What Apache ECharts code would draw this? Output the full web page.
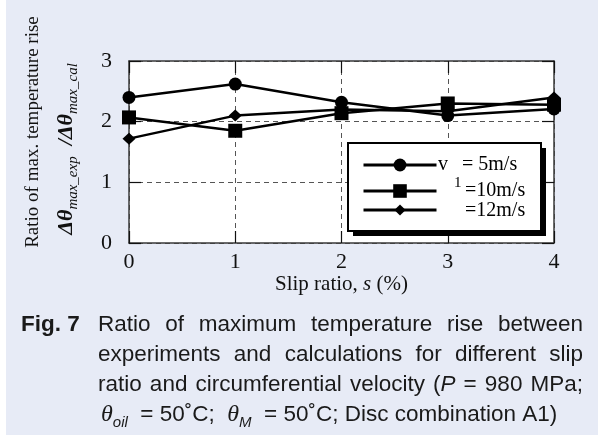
<!DOCTYPE html>
<html>
<head>
<meta charset="utf-8">
<script src="https://cdn.jsdelivr.net/npm/echarts@6/dist/echarts.min.js"></script>
<style>
  html, body { margin: 0; padding: 0; background: #fff; }
  #chart { width: 598px; height: 441px; }
</style>
</head>
<body>
<div id="chart"></div>
<script>
// slip ratio s (%) on x, ratio of max temperature rise on y
const slipRatio = [0, 1, 2, 3, 4];
const v5 = [2.40, 2.62, 2.32, 2.10, 2.21];   // v1 = 5m/s
const v10 = [2.07, 1.85, 2.14, 2.30, 2.28];  // v1 = 10m/s
const v12 = [1.72, 2.10, 2.20, 2.17, 2.40];  // v1 = 12m/s
const xTicks = [0, 1, 2, 3, 4];
const yTicks = [0, 1, 2, 3];

const SERIF = 'Liberation Serif';
const SANS = 'Liberation Sans';
const CAP = 22.5;

const pairs = (ys) => slipRatio.map((x, i) => [x, ys[i]]);

// measure words so the caption can be justified like the printed one
const ctx = document.createElement('canvas').getContext('2d');
function fontOf(kind) {
  const style = kind === 'i' ? 'italic' : 'normal';
  const weight = kind === 'b' ? 'bold' : 'normal';
  return { style, weight, str: style + ' ' + weight + ' ' + CAP + 'px ' + SANS };
}
function measure(text, kind) {
  ctx.font = fontOf(kind).str;
  return ctx.measureText(text).width;
}
function captionLine(words, x0, x1, y) {
  const els = [];
  const widths = words.map(w => w.reduce((s, p) => s + measure(p[0], p[1]), 0));
  const total = widths.reduce((a, b) => a + b, 0);
  const gap = (x1 - x0 - total) / (words.length - 1);
  let x = x0;
  words.forEach((w, i) => {
    let px = x;
    w.forEach(p => {
      const f = fontOf(p[1]);
      els.push({
        type: 'text', x: px, y: y, z: 10,
        style: {
          text: p[0], fontSize: CAP, fontFamily: SANS, fontStyle: f.style,
          fontWeight: f.weight, fill: '#1a1a1a', verticalAlign: 'middle'
        }
      });
      px += measure(p[0], p[1]);
    });
    x += widths[i] + gap;
  });
  return els;
}
const w = (s) => [[s, 'n']];
const line1 = 'Ratio of maximum temperature rise between'.split(' ').map(w);
const line2 = 'experiments and calculations for different slip'.split(' ').map(w);
const line3 = ['ratio', 'and', 'circumferential', 'velocity'].map(w)
  .concat([[['(', 'n'], ['P', 'i']], w('='), w('980'), w('MPa;')]);

const chart = echarts.init(document.getElementById('chart'), null, { renderer: 'canvas' });

const axisLine = () => ({ show: true, onZero: false, lineStyle: { color: '#3a3a3a', width: 1.5 } });
const ticks = () => ({ show: true, inside: true, length: 12, lineStyle: { color: '#111', width: 1.2 } });
const splits = () => ({ show: true, lineStyle: { color: '#555', width: 1, type: [5, 4] } });

function legendAt(name, cy, h) {
  return {
    data: [name], left: 362, top: cy - h / 2, padding: 0,
    itemWidth: 73, itemHeight: h, selectedMode: false, z: 8,
    formatter: () => '', textStyle: { fontSize: 1 },
    lineStyle: { width: 3, color: '#000' }
  };
}

chart.setOption({
  backgroundColor: '#e7ebf6',
  animation: false,
  grid: {
    left: 129, top: 61, right: 44, bottom: 198,
    show: true, backgroundColor: '#fff', borderWidth: 0
  },
  xAxis: [{
    type: 'value', min: xTicks[0], max: xTicks[xTicks.length - 1], interval: xTicks[1] - xTicks[0],
    axisLine: axisLine(), axisTick: ticks(), splitLine: splits(),
    axisLabel: { fontFamily: SERIF, fontSize: 22, color: '#111', margin: 8 },
    name: '{n|Slip ratio, }{i|s}{n| (%)}', nameLocation: 'middle', nameGap: 30,
    nameTextStyle: {
      rich: {
        n: { fontFamily: SERIF, fontSize: 21, color: '#111' },
        i: { fontFamily: SERIF, fontSize: 21, fontStyle: 'italic', color: '#111' }
      }
    }
  }, {
    type: 'value', position: 'top', min: xTicks[0], max: xTicks[xTicks.length - 1],
    interval: xTicks[1] - xTicks[0],
    axisLine: axisLine(), axisTick: ticks(),
    axisLabel: { show: false }, splitLine: { show: false }
  }],
  yAxis: [{
    type: 'value', min: yTicks[0], max: yTicks[yTicks.length - 1], interval: yTicks[1] - yTicks[0],
    axisLine: axisLine(), axisTick: ticks(), splitLine: splits(),
    axisLabel: { fontFamily: SERIF, fontSize: 22, color: '#111', margin: 17 }
  }, {
    type: 'value', position: 'right', min: yTicks[0], max: yTicks[yTicks.length - 1],
    interval: yTicks[1] - yTicks[0],
    axisLine: axisLine(), axisTick: ticks(),
    axisLabel: { show: false }, splitLine: { show: false }
  }],
  legend: [
    legendAt('v1 = 5m/s', 165, 16),
    legendAt('v1 = 10m/s', 191, 17),
    legendAt('v1 = 12m/s', 210, 14)
  ],
  series: [{
    name: 'v1 = 5m/s', type: 'line', data: pairs(v5),
    symbol: 'circle', symbolSize: 13,
    lineStyle: { color: '#000', width: 2.5 }, itemStyle: { color: '#000' }
  }, {
    name: 'v1 = 10m/s', type: 'line', data: pairs(v10),
    symbol: 'rect', symbolSize: 14,
    lineStyle: { color: '#000', width: 2.5 }, itemStyle: { color: '#000' }
  }, {
    name: 'v1 = 12m/s', type: 'line', data: pairs(v12),
    symbol: 'diamond', symbolSize: [13, 12],
    lineStyle: { color: '#000', width: 2.5 }, itemStyle: { color: '#000' }
  }],
  graphic: [
    // white margin strips around the tinted panel
    { type: 'rect', shape: { x: 0, y: 0, width: 6, height: 441 }, style: { fill: '#fff' } },
    { type: 'rect', shape: { x: 0, y: 435, width: 598, height: 6 }, style: { fill: '#fff' } },
    // legend box with its drop shadow
    { type: 'rect', z: 5, shape: { x: 353, y: 148, width: 193, height: 88 }, style: { fill: '#000' } },
    { type: 'rect', z: 6, shape: { x: 348, y: 143, width: 193, height: 88 },
      style: { fill: '#fff', stroke: '#000', lineWidth: 2 } },
    { type: 'text', z: 9, x: 438, y: 165,
      style: { text: 'v', fontFamily: SERIF, fontSize: 20, fill: '#000', verticalAlign: 'middle' } },
    { type: 'text', z: 9, x: 454, y: 183,
      style: { text: '1', fontFamily: SERIF, fontSize: 15, fill: '#000', verticalAlign: 'middle' } },
    { type: 'text', z: 9, x: 462, y: 165,
      style: { text: '= 5m/s', fontFamily: SERIF, fontSize: 20, fill: '#000', verticalAlign: 'middle' } },
    { type: 'text', z: 9, x: 465, y: 191,
      style: { text: '=10m/s', fontFamily: SERIF, fontSize: 20, fill: '#000', verticalAlign: 'middle' } },
    { type: 'text', z: 9, x: 465, y: 211,
      style: { text: '=12m/s', fontFamily: SERIF, fontSize: 20, fill: '#000', verticalAlign: 'middle' } },
    // y axis title, two rotated lines
    { type: 'text', x: 33, y: 132, rotation: Math.PI / 2,
      style: { text: 'Ratio of max. temperature rise', fontFamily: SERIF, fontSize: 19,
        fill: '#111', align: 'center', verticalAlign: 'middle' } },
    { type: 'text', x: 66, y: 149, rotation: Math.PI / 2,
      style: {
        text: '{m|Δθ}{s|max_exp}{m|  /Δθ}{s|max_cal}', align: 'center', verticalAlign: 'middle',
        rich: {
          m: { fontFamily: SERIF, fontSize: 22, fontStyle: 'italic', fontWeight: 'bold',
            fill: '#111', lineHeight: 30, verticalAlign: 'middle' },
          s: { fontFamily: SERIF, fontSize: 15, fontStyle: 'italic',
            fill: '#111', lineHeight: 12, verticalAlign: 'bottom' }
        }
      } },
    // figure caption
    { type: 'text', x: 21, y: 325, z: 10,
      style: { text: 'Fig. 7', fontFamily: SANS, fontSize: CAP, fontWeight: 'bold',
        fill: '#1a1a1a', verticalAlign: 'middle' } },
    ...captionLine(line1, 98, 583, 325),
    ...captionLine(line2, 98, 583, 355),
    ...captionLine(line3, 98, 583, 385),
    { type: 'text', x: 101, y: 415, z: 10,
      style: {
        text: '{t|θ}{s|oil}{n|  = 50˚C;  }{t|θ}{s|M}{n|  = 50˚C; Disc combination A1)}',
        verticalAlign: 'middle',
        rich: {
          t: { fontFamily: SERIF, fontSize: 24, fontStyle: 'italic', fill: '#1a1a1a',
            lineHeight: 30, verticalAlign: 'middle' },
          s: { fontFamily: SANS, fontSize: 15, fontStyle: 'italic', fill: '#1a1a1a',
            lineHeight: 12, verticalAlign: 'bottom' },
          n: { fontFamily: SANS, fontSize: CAP, fill: '#1a1a1a',
            lineHeight: 30, verticalAlign: 'middle' }
        }
      } }
  ]
});
</script>
</body>
</html>
